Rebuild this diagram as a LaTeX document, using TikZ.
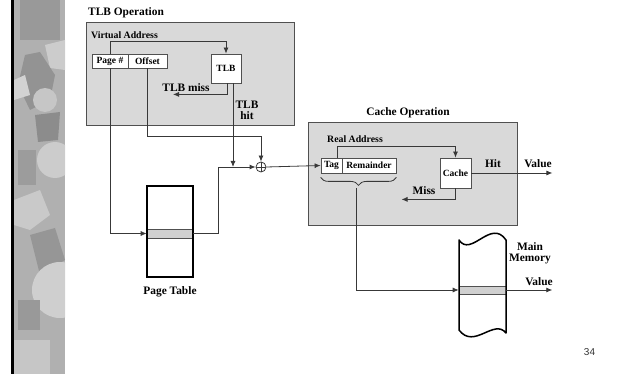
\documentclass[tikz,border=0pt]{standalone}
\usepackage{fontspec}
\setmainfont{Liberation Serif}
\newfontfamily\numfont{Liberation Sans}
\usetikzlibrary{arrows.meta,decorations.pathreplacing}
\definecolor{boxfill}{HTML}{D9D9D9}
\definecolor{boxline}{HTML}{505050}
\definecolor{wire}{HTML}{383838}
\definecolor{bandfill}{HTML}{D0D0D0}
\begin{document}
\begin{tikzpicture}[x=1pt,y=-1pt,
  graybox/.style={draw=boxline,fill=boxfill,line width=0.8pt,inner sep=0pt,anchor=north west},
  cell/.style={draw=boxline,fill=white,line width=0.8pt,inner sep=0pt,font=\bfseries\fontsize{9.5}{10}\selectfont},
  lbl/.style={inner sep=0pt,font=\bfseries\fontsize{11.4}{12}\selectfont},
  slbl/.style={inner sep=0pt,font=\bfseries\fontsize{9.8}{11}\selectfont},
  arr/.style={draw=wire,line width=0.8pt,-{Latex[length=6pt,width=5pt]}},
  wireline/.style={draw=wire,line width=0.8pt},
  frame/.style={draw=black,line width=1.5pt}]
\useasboundingbox (0,0) rectangle (619,374);
% left decorative strip
\begin{scope}
\clip (13,0) rectangle (65,374);
\fill[gray!62] (13,0) rectangle (65,374);
\fill[gray!80] (20,0) rectangle (60,40);
\fill[gray!40] (45,45) -- (65,40) -- (65,70) -- (50,68) -- cycle;
\fill[gray!85] (25,55) -- (40,52) -- (55,75) -- (50,100) -- (30,110) -- (18,85) -- cycle;
\fill[gray!35] (14,80) -- (25,75) -- (30,95) -- (14,100) -- cycle;
\fill[gray!45] (45,100) circle (12);
\fill[gray!90] (35,115) -- (60,112) -- (58,140) -- (38,142) -- cycle;
\fill[gray!40] (55,160) circle (18);
\fill[gray!78] (18,150) rectangle (36,185);
\fill[gray!42] (14,200) -- (40,190) -- (50,215) -- (30,230) -- (14,225) -- cycle;
\fill[gray!82] (30,235) -- (55,228) -- (65,260) -- (40,275) -- cycle;
\fill[gray!38] (60,290) circle (28);
\fill[gray!80] (18,300) rectangle (40,330);
\fill[gray!45] (14,340) rectangle (50,374);
\end{scope}
\fill[black] (11,0) rectangle (13.5,374);
% clipped title glyph
\begin{scope}
\clip (0,0) rectangle (619,374);
\node[inner sep=0pt,anchor=base,font=\sffamily\bfseries\fontsize{24}{24}\selectfont] (ttl) at (135,-5) {g};
\end{scope}
% TLB operation
\node[lbl,anchor=center] (tlbop) at (126,12.5) {TLB Operation};
\node[graybox,minimum width=208pt,minimum height=103pt] (tlbbox) at (86,22) {};
\node[slbl] (va) at (124.5,35) {Virtual Address};
\node[cell,minimum width=36pt,minimum height=14pt] (page) at (110,61) {Page \#};
\node[cell,minimum width=39pt,minimum height=14pt] (offset) at (147.5,61) {Offset};
\node[cell,minimum width=30pt,minimum height=29pt] (tlb) at (226,68.5) {TLB};
\node[lbl] (miss1) at (186,88) {TLB miss};
\node[lbl,align=center] (hit1) at (247,110) {TLB\\[-1pt]hit};
% page table
\node[draw=none,minimum width=46pt,minimum height=91pt,inner sep=0pt] (pt) at (170,231.5) {};
\node[draw=boxline,fill=bandfill,line width=0.6pt,minimum width=46pt,minimum height=9pt,inner sep=0pt] (band) at (170,233.5) {};
\draw[frame] (pt.north west) rectangle (pt.south east);
\node[lbl] (ptlbl) at (170,291.5) {Page Table};
% plus
\node[draw=wire,line width=0.8pt,circle,minimum size=10pt,inner sep=0pt] (plus) at (261,167) {};
\draw[wire,line width=0.8pt] (plus.north) -- (plus.south) (plus.west) -- (plus.east);
% cache operation
\node[lbl] (cacheop) at (408,113) {Cache Operation};
\node[graybox,minimum width=209pt,minimum height=103pt] (cbox) at (308,122) {};
\node[slbl] (ra) at (355,139) {Real Address};
\node[cell,minimum width=21pt,minimum height=15pt] (tag) at (331.5,165.5) {Tag};
\node[cell,minimum width=54pt,minimum height=15pt] (rem) at (369,165.5) {Remainder};
\node[cell,minimum width=31pt,minimum height=30pt] (cache) at (455.5,173) {Cache};
\node[lbl] (hit2) at (493,163.5) {Hit};
\node[lbl] (val1) at (538,164) {Value};
\node[lbl] (miss2) at (424,191) {Miss};
% main memory
\node[draw=boxline,fill=bandfill,line width=0.6pt,minimum width=47pt,minimum height=8pt,inner sep=0pt] (memband) at (482.5,290) {};
\draw[frame,line join=round] (459,240) .. controls (471,258) and (491,218) .. (506,240)
  -- (506,333) .. controls (494,318) and (474,350) .. (459,330) -- cycle;
\node[lbl,align=center] (mm) at (530,253) {Main\\[-1pt]Memory};
\node[lbl] (val2) at (539,281.5) {Value};
% connectors
\draw[arr] (page.north) -- ++(0,-12) -| (tlb.north);
\draw[arr] ([xshift=1pt]tlb.south) -- ++(0,11) -- ++(-54,0);
\draw[arr] ([xshift=7pt]tlb.south) -- ([xshift=7pt]tlb.south |- plus.center);
\draw[arr] (offset.south) -- ++(0,68) -| (plus.north);
\draw[arr] (page.south) |- (band.west);
\draw[arr] (band.east) -- ++(25,0) |- (plus.west);
\draw[arr] (plus.east) -- (tag.west);
\draw[arr] ([xshift=6pt]tag.north) -- ++(0,-11) -| (cache.north);
\draw[arr] (cache.east) -- ++(81,0) coordinate (hitend);
\draw[arr] (cache.south) -- ++(0,11) -- ++(-54,0);
\draw[wireline,decorate,decoration={brace,mirror,amplitude=8pt}] ([yshift=-4pt]tag.south west) -- ([yshift=-4pt]rem.south east);
\coordinate (brtip) at (356,188);
\draw[arr] (brtip) |- (memband.west);
\draw[arr] (memband.east) -- ++(46,0);
% page number
\node[inner sep=0pt,font=\numfont\fontsize{10}{10}\selectfont,text=black!80] (pnum) at (589.5,352.5) {34};
\end{tikzpicture}
\end{document}
